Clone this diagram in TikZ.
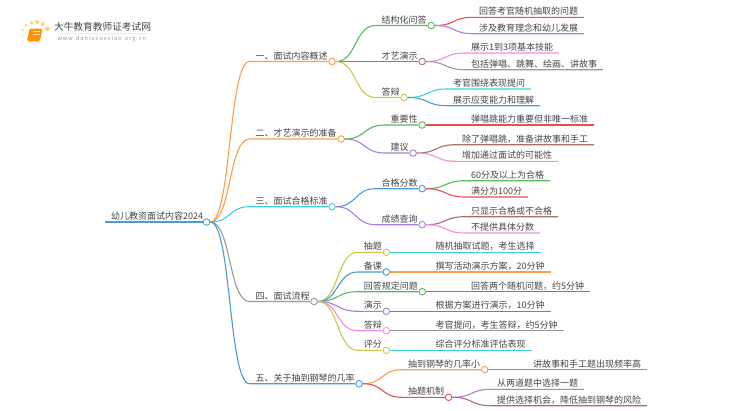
\documentclass[tikz,border=0pt]{standalone}
\usepackage{fontspec}
\setmainfont{Noto Sans CJK SC}
\definecolor{MapOrange}{rgb}{1.0,0.62,0.29}
\definecolor{MapGreen}{rgb}{0.36,0.72,0.36}
\definecolor{MapBlue}{rgb}{0.29,0.61,0.83}
\definecolor{MapCyan}{rgb}{0.24,0.81,0.88}
\definecolor{MapPurple}{rgb}{0.65,0.50,0.85}
\definecolor{MapBrown}{rgb}{0.66,0.44,0.41}
\definecolor{MapRed}{rgb}{0.91,0.31,0.31}
\definecolor{MapPink}{rgb}{0.94,0.56,0.85}
\definecolor{MapGray}{rgb}{0.60,0.60,0.60}
\definecolor{MapOlive}{rgb}{0.79,0.79,0.29}
\definecolor{MapText}{rgb}{0.27,0.27,0.27}
\tikzset{
  lab/.style={anchor=south west,font=\fontsize{9}{9}\selectfont,text=MapText,inner xsep=5.5pt,inner ysep=.8pt,text height=8pt,text depth=1pt},
  hub/.style={circle,fill=white,line width=.9pt,inner sep=0pt,minimum size=6.6pt,xshift=-1.5pt},
  bough/.style={out=0,in=180,distance=21pt},
  every path/.append style={line width=1.1pt}
}

\begin{document}
\begin{tikzpicture}[x=1pt,y=-1pt]
\useasboundingbox (0,0) rectangle (750,410);

% logo
\foreach \a/\b/\r/\o in {47.3/28.7/2.3/.8,42.7/24/2/.7,37.3/22/2/.7,31.7/22.7/1.9/.7,26/25.3/1.7/.6,22.7/30/1.4/.5,22/36/1.2/.4,23.3/42/1.1/.25}
  \fill[MapOrange!60!yellow,opacity=\o] (\a,\b) circle (\r pt);
\fill[orange!85!yellow,rounded corners=1.5pt] (29.5,28.5) -- (42.5,28.5) -- (40,41) -- (27,41) -- cycle;
\draw[orange!50,line width=1.2pt] (27.5,41.5) -- (39.5,41.5);
\draw[white!80!orange,line width=.7pt] (33,31.5) -- (40,31.5) (32.5,34) -- (39.5,34);
\node[anchor=west,inner sep=0pt,font=\fontsize{9.7}{9.7}\selectfont,text=MapText] (logotext) at (53.5,27) {大牛教育教师证考试网};
\node[anchor=west,inner sep=0pt,font=\fontsize{5.6}{5.6}\selectfont\addfontfeatures{LetterSpace=17},text=MapGray] (logourl) at (57,39) {www.daniuxuexiao.org.cn};
\draw[black!8,line width=.8pt] (logotext.south west) ++(6,1.5) -- ++(88,0);

% root
\node[lab] (root) at (105,222) {幼儿教资面试内容2024};
\node[hub,draw=MapBlue,xshift=-1pt] (rooth) at (root.south east) {};
\draw[MapBlue] (root.south west) -- (rooth);

% first level
\node[lab] (a) at (249.5,61.5) {一、面试内容概述};
\node[hub,draw=MapOrange] (ah) at (a.south east) {};
\draw[MapOrange] (rooth) to[bough] (a.south west) -- (ah);
\node[lab] (b) at (249.5,139) {二、才艺演示的准备};
\node[hub,draw=MapOrange] (bh) at (b.south east) {};
\draw[MapOrange] (rooth) to[bough] (b.south west) -- (bh);
\node[lab] (c) at (249.5,206.7) {三、面试合格标准};
\node[hub,draw=MapCyan] (ch) at (c.south east) {};
\draw[MapCyan] (rooth) to[bough] (c.south west) -- (ch);
\node[lab] (d) at (249.5,301.5) {四、面试流程};
\node[hub,draw=MapGray] (dh) at (d.south east) {};
\draw[MapGray] (rooth) to[bough] (d.south west) -- (dh);
\node[lab] (e) at (249.5,383.7) {五、关于抽到钢琴的几率};
\node[hub,draw=MapBlue] (eh) at (e.south east) {};
\draw[MapBlue] (rooth) to[bough] (e.south west) -- (eh);

% second level
\node[lab] (a1) at (375.5,25.5) {结构化问答};
\node[hub,draw=MapGreen] (a1h) at (a1.south east) {};
\draw[MapGreen] (ah) to[bough] (a1.south west) -- (a1h);
\node[lab] (a2) at (375.5,61.5) {才艺演示};
\node[hub,draw=MapBrown] (a2h) at (a2.south east) {};
\draw[MapBrown] (ah) to[bough] (a2.south west) -- (a2h);
\node[lab] (a3) at (375.5,97.5) {答辩};
\node[hub,draw=MapOlive] (a3h) at (a3.south east) {};
\draw[MapOlive] (ah) to[bough] (a3.south west) -- (a3h);
\node[lab] (b1) at (384.5,125) {重要性};
\node[hub,draw=MapGreen] (b1h) at (b1.south east) {};
\draw[MapGreen] (bh) to[bough] (b1.south west) -- (b1h);
\node[lab] (b2) at (384.5,153) {建议};
\node[hub,draw=MapPurple] (b2h) at (b2.south east) {};
\draw[MapPurple] (bh) to[bough] (b2.south west) -- (b2h);
\node[lab] (c1) at (375.5,188.7) {合格分数};
\node[hub,draw=MapBlue] (c1h) at (c1.south east) {};
\draw[MapBlue] (ch) to[bough] (c1.south west) -- (c1h);
\node[lab] (c2) at (375.5,224.7) {成绩查询};
\node[hub,draw=MapPurple] (c2h) at (c2.south east) {};
\draw[MapPurple] (ch) to[bough] (c2.south west) -- (c2h);
\node[lab] (d1) at (357.7,252.3) {抽题};
\node[hub,draw=MapOlive] (d1h) at (d1.south east) {};
\draw[MapOlive] (dh) to[bough] (d1.south west) -- (d1h);
\node[lab] (d2) at (357.7,272) {备课};
\node[hub,draw=MapBlue] (d2h) at (d2.south east) {};
\draw[MapBlue] (dh) to[bough] (d2.south west) -- (d2h);
\node[lab] (d3) at (357.7,291.7) {回答规定问题};
\node[hub,draw=MapGreen] (d3h) at (d3.south east) {};
\draw[MapGreen] (dh) to[bough] (d3.south west) -- (d3h);
\node[lab] (d4) at (357.7,311.3) {演示};
\node[hub,draw=MapPurple] (d4h) at (d4.south east) {};
\draw[MapPurple] (dh) to[bough] (d4.south west) -- (d4h);
\node[lab] (d5) at (357.7,330.7) {答辩};
\node[hub,draw=MapPink] (d5h) at (d5.south east) {};
\draw[MapPink] (dh) to[bough] (d5.south west) -- (d5h);
\node[lab] (d6) at (357.7,350.3) {评分};
\node[hub,draw=MapOlive] (d6h) at (d6.south east) {};
\draw[MapOlive] (dh) to[bough] (d6.south west) -- (d6h);
\node[lab] (e1) at (402,369.7) {抽到钢琴的几率小};
\node[hub,draw=MapOrange] (e1h) at (e1.south east) {};
\draw[MapOrange] (eh) to[bough] (e1.south west) -- (e1h);
\node[lab] (e2) at (402,397.3) {抽题机制};
\node[hub,draw=MapRed] (e2h) at (e2.south east) {};
\draw[MapRed] (eh) to[bough] (e2.south west) -- (e2h);

% leaves
\node[lab] (l1) at (473,17.3) {回答考官随机抽取的问题};
\draw[MapRed] (a1h) to[bough] (l1.south west) -- (l1.south east);
\node[lab] (l2) at (473,33.7) {涉及教育理念和幼儿发展};
\draw[MapPurple] (a1h) to[bough] (l2.south west) -- (l2.south east);
\node[lab] (l3) at (465,53) {展示1到3项基本技能};
\draw[MapPink] (a2h) to[bough] (l3.south west) -- (l3.south east);
\node[lab] (l4) at (465,69.7) {包括弹唱、跳舞、绘画、讲故事};
\draw[MapGray] (a2h) to[bough] (l4.south west) -- (l4.south east);
\node[lab] (l5) at (447,89) {考官围绕表现提问};
\draw[MapCyan] (a3h) to[bough] (l5.south west) -- (l5.south east);
\node[lab] (l6) at (447,105.7) {展示应变能力和理解};
\draw[MapBlue] (a3h) to[bough] (l6.south west) -- (l6.south east);
\node[lab] (l7) at (465,125) {弹唱跳能力重要但非唯一标准};
\draw[MapRed] (b1h) to[bough] (l7.south west) -- (l7.south east);
\node[lab] (l8) at (456,144.7) {除了弹唱跳，准备讲故事和手工};
\draw[MapBrown] (b2h) to[bough] (l8.south west) -- (l8.south east);
\node[lab] (l9) at (456,161.3) {增加通过面试的可能性};
\draw[MapPink] (b2h) to[bough] (l9.south west) -- (l9.south east);
\node[lab] (l10) at (465,180.7) {60分及以上为合格};
\draw[MapGreen] (c1h) to[bough] (l10.south west) -- (l10.south east);
\node[lab] (l11) at (465,197) {满分为100分};
\draw[MapRed] (c1h) to[bough] (l11.south west) -- (l11.south east);
\node[lab] (l12) at (465,216.7) {只显示合格或不合格};
\draw[MapBrown] (c2h) to[bough] (l12.south west) -- (l12.south east);
\node[lab] (l13) at (465,233) {不提供具体分数};
\draw[MapPink] (c2h) to[bough] (l13.south west) -- (l13.south east);
\node[lab] (l14) at (429.5,252.3) {随机抽取试题，考生选择};
\draw[MapCyan] (d1h) -- (l14.south east);
\node[lab] (l15) at (429.5,272) {撰写活动演示方案，20分钟};
\draw[MapOrange] (d2h) -- (l15.south east);
\node[lab] (l16) at (465,291.7) {回答两个随机问题，约5分钟};
\draw[MapRed] (d3h) -- (l16.south east);
\node[lab] (l17) at (429.5,311.3) {根据方案进行演示，10分钟};
\draw[MapBrown] (d4h) -- (l17.south east);
\node[lab] (l18) at (429.5,330.7) {考官提问，考生答辩，约5分钟};
\draw[MapGray] (d5h) -- (l18.south east);
\node[lab] (l19) at (429.5,350.3) {综合评分标准评估表现};
\draw[MapCyan] (d6h) -- (l19.south east);
\node[lab] (l20) at (527,369.7) {讲故事和手工题出现频率高};
\draw[MapGreen] (e1h) -- (l20.south east);
\node[lab] (l21) at (491,389.3) {从两道题中选择一题};
\draw[MapPurple] (e2h) to[bough] (l21.south west) -- (l21.south east);
\node[lab] (l22) at (491,405.7) {提供选择机会，降低抽到钢琴的风险};
\draw[MapBrown] (e2h) to[bough] (l22.south west) -- (l22.south east);
\end{tikzpicture}
\end{document}
